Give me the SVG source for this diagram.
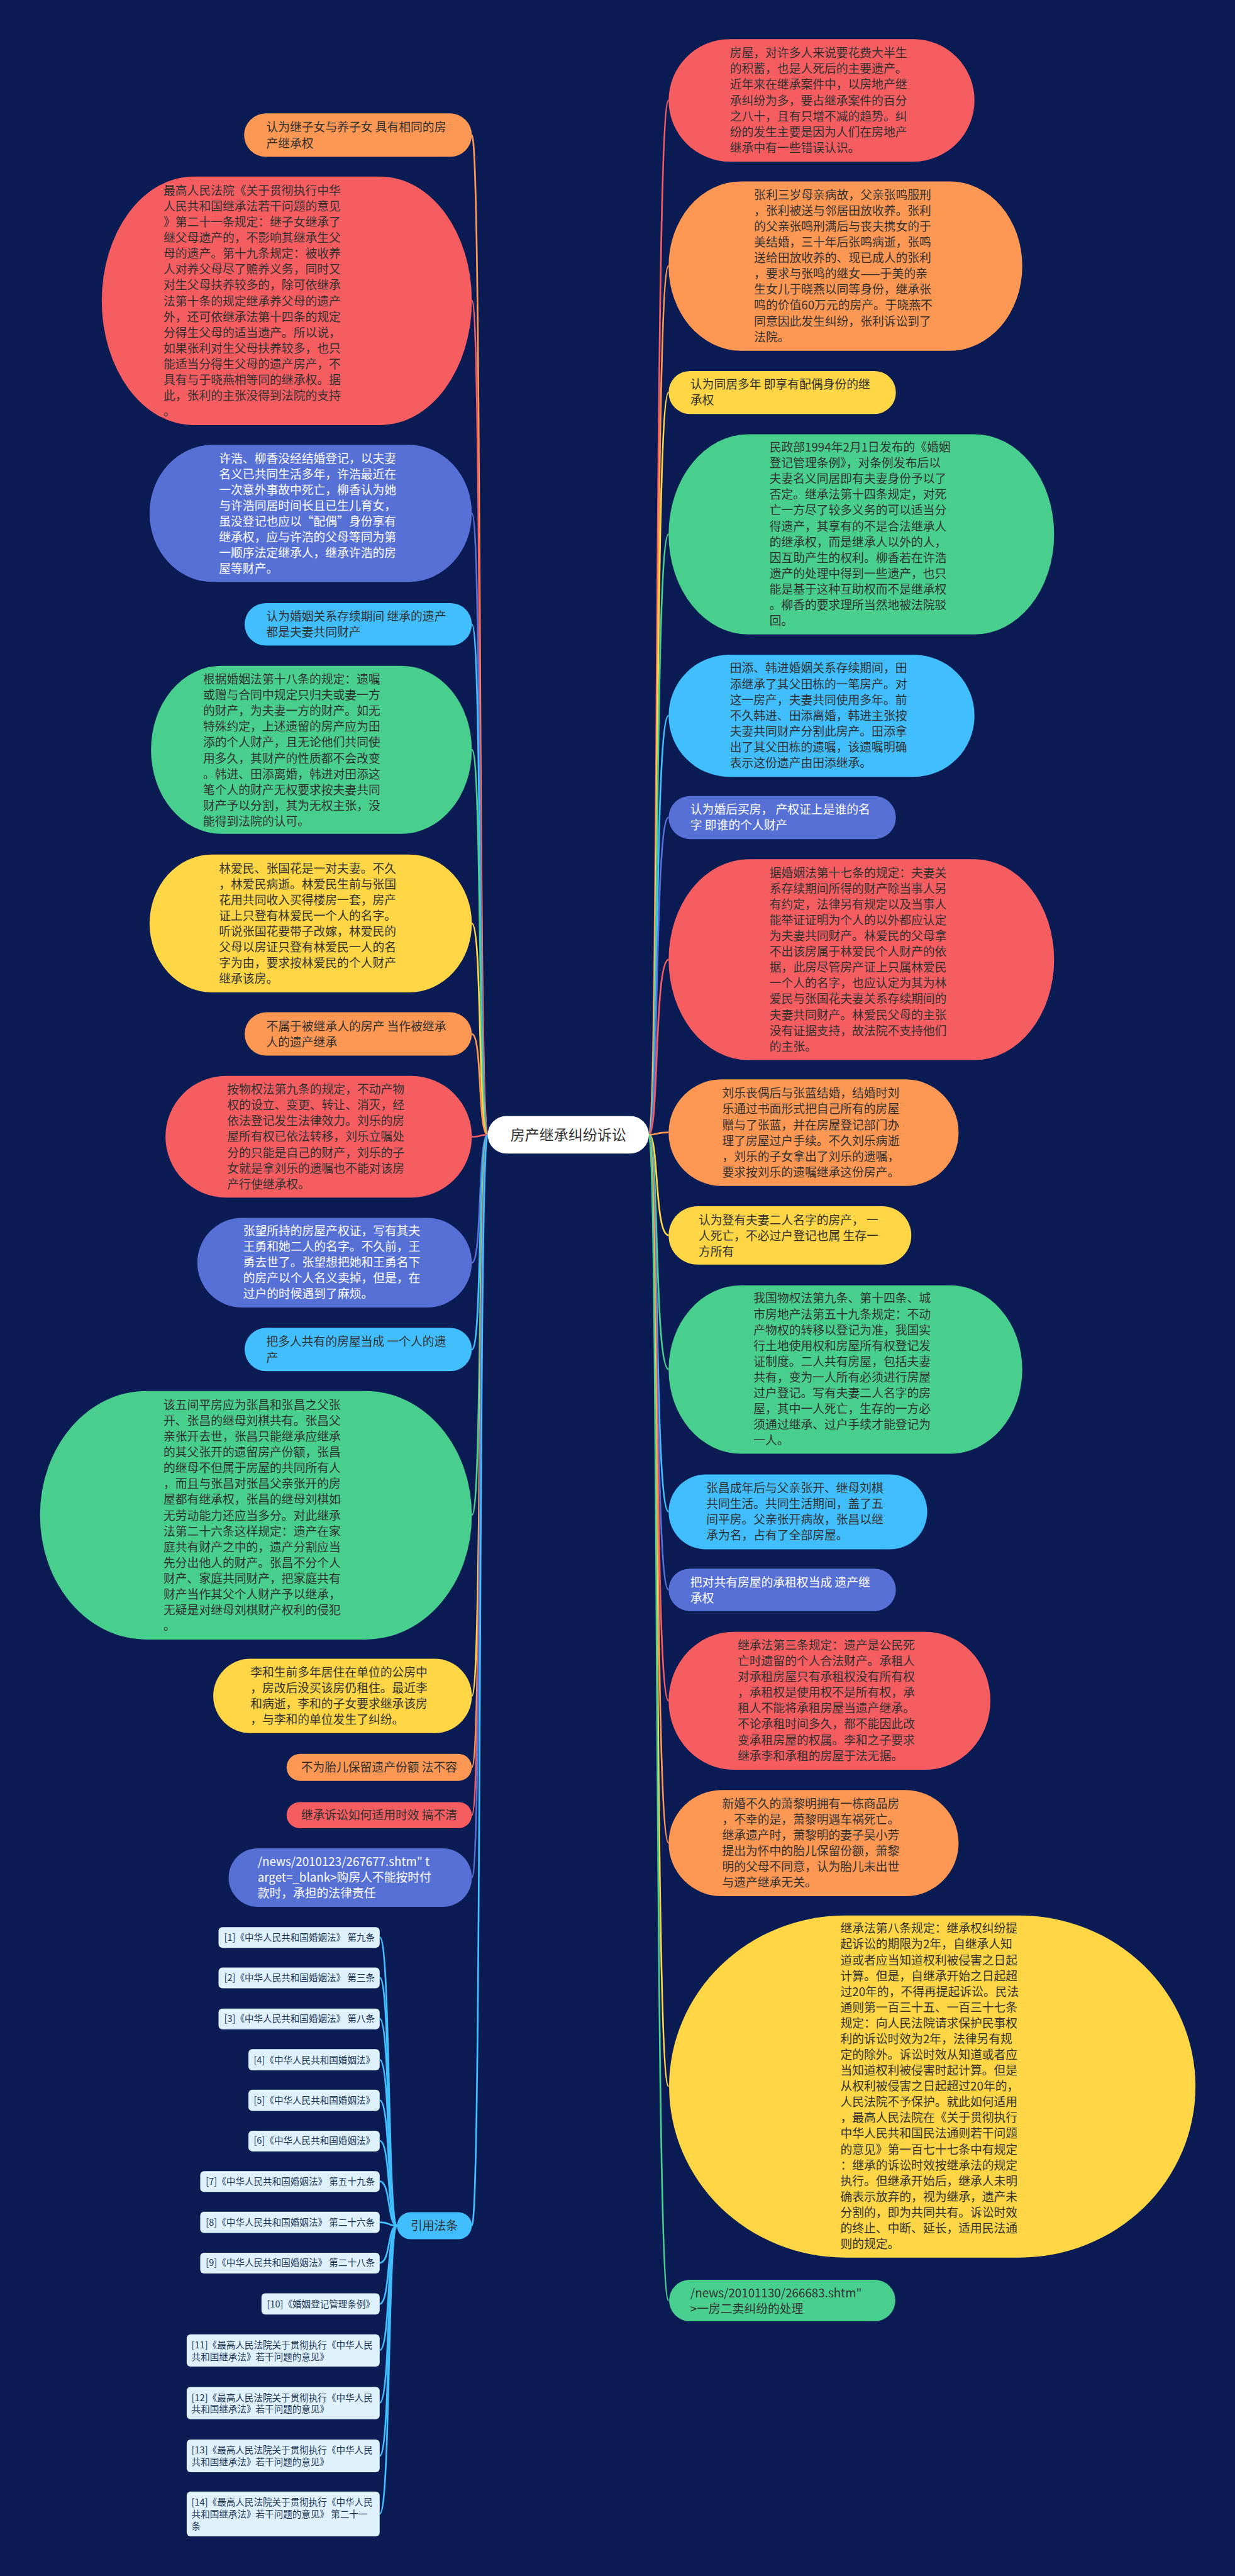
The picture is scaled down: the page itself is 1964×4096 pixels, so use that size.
<svg xmlns="http://www.w3.org/2000/svg" width="1964" height="4096" viewBox="0 0 1964 4096">
<style>
.t{font-family:"Noto Sans CJK SC","Noto Sans",sans-serif;font-size:24.5px;fill:#333}
.w{fill:#fff}
.rt{font-family:"Noto Sans CJK SC","Noto Sans",sans-serif;font-size:19px;fill:#1d3557}
.c{fill:none;stroke-width:3.5}
.red{fill:#f55d61}.ora{fill:#fd9754}.yel{fill:#fed646}.grn{fill:#49cf8d}.blu{fill:#41befd}.pur{fill:#5670d6}
.sred{stroke:#f55d61}.sora{stroke:#fd9754}.syel{stroke:#fed646}.sgrn{stroke:#49cf8d}.sblu{stroke:#41befd}.spur{stroke:#5670d6}
.ref{fill:#dff2fc}
</style>
<rect x="0" y="0" width="1964" height="4096" fill="#0b1c54"/>
<g transform="scale(0.76719)">
<g id="connectors">
<path class="c sora" d="M1011,2352 C990,2352 1000,280 978,280"/>
<path class="c sred" d="M1011,2352 C990,2352 1000,623 978,623"/>
<path class="c spur" d="M1011,2352 C990,2352 1000,1064 978,1064"/>
<path class="c sblu" d="M1011,2352 C990,2352 1000,1294 978,1294"/>
<path class="c sgrn" d="M1011,2352 C990,2352 1000,1554 978,1554"/>
<path class="c syel" d="M1011,2352 C990,2352 1000,1914 978,1914"/>
<path class="c sora" d="M1011,2352 C990,2352 1000,2143 978,2143"/>
<path class="c sred" d="M1011,2352 C990,2352 1000,2356 978,2356"/>
<path class="c spur" d="M1011,2352 C990,2352 1000,2617 978,2617"/>
<path class="c sblu" d="M1011,2352 C990,2352 1000,2797 978,2797"/>
<path class="c sgrn" d="M1011,2352 C990,2352 1000,3140 978,3140"/>
<path class="c syel" d="M1011,2352 C990,2352 1000,3515 978,3515"/>
<path class="c sora" d="M1011,2352 C990,2352 1000,3663 978,3663"/>
<path class="c sred" d="M1011,2352 C990,2352 1000,3762 978,3762"/>
<path class="c spur" d="M1011,2352 C990,2352 1000,3891 978,3891"/>
<path class="c sblu" d="M1011,2352 C990,2352 1000,4613 978,4613"/>
<path class="c sred" d="M1345,2352 C1366,2352 1356,208 1386,208"/>
<path class="c sora" d="M1345,2352 C1366,2352 1356,551 1386,551"/>
<path class="c syel" d="M1345,2352 C1366,2352 1356,813 1386,813"/>
<path class="c sgrn" d="M1345,2352 C1366,2352 1356,1107 1386,1107"/>
<path class="c sblu" d="M1345,2352 C1366,2352 1356,1483 1386,1483"/>
<path class="c spur" d="M1345,2352 C1366,2352 1356,1694 1386,1694"/>
<path class="c sred" d="M1345,2352 C1366,2352 1356,1989 1386,1989"/>
<path class="c sora" d="M1345,2352 C1366,2352 1356,2347 1386,2347"/>
<path class="c syel" d="M1345,2352 C1366,2352 1356,2560 1386,2560"/>
<path class="c sgrn" d="M1345,2352 C1366,2352 1356,2838 1386,2838"/>
<path class="c sblu" d="M1345,2352 C1366,2352 1356,3133 1386,3133"/>
<path class="c spur" d="M1345,2352 C1366,2352 1356,3295 1386,3295"/>
<path class="c sred" d="M1345,2352 C1366,2352 1356,3525 1386,3525"/>
<path class="c sora" d="M1345,2352 C1366,2352 1356,3820 1386,3820"/>
<path class="c syel" d="M1345,2352 C1366,2352 1356,4324 1386,4324"/>
<path class="c sgrn" d="M1345,2352 C1366,2352 1356,4768 1386,4768"/>
<g class="c sblu" stroke-width="3">
<path d="M823,4613 C803,4613 810,4015 787,4015"/>
<path d="M823,4613 C803,4613 810,4099 787,4099"/>
<path d="M823,4613 C803,4613 810,4184 787,4184"/>
<path d="M823,4613 C803,4613 810,4269 787,4269"/>
<path d="M823,4613 C803,4613 810,4353 787,4353"/>
<path d="M823,4613 C803,4613 810,4437 787,4437"/>
<path d="M823,4613 C803,4613 810,4521 787,4521"/>
<path d="M823,4613 C803,4613 810,4606 787,4606"/>
<path d="M823,4613 C803,4613 810,4690 787,4690"/>
<path d="M823,4613 C803,4613 810,4775 787,4775"/>
<path d="M823,4613 C803,4613 810,4871 787,4871"/>
<path d="M823,4613 C803,4613 810,4980 787,4980"/>
<path d="M823,4613 C803,4613 810,5090 787,5090"/>
<path d="M823,4613 C803,4613 810,5210 787,5210"/>
</g>
</g>

<g id="root">
<rect x="1011" y="2313" width="334" height="78" rx="39" fill="#ffffff"/>
<text x="1178" y="2363" text-anchor="middle" font-family="Noto Sans CJK SC, sans-serif" font-size="30" fill="#333">房产继承纠纷诉讼</text>
</g>

<g id="L1"><rect class="ora" x="506" y="235" width="472" height="90" rx="45"/>
<text class="t" x="552" y="273"><tspan x="552">认为继子女与养子女 具有相同的房</tspan><tspan x="552" dy="32.7">产继承权</tspan></text></g>

<g id="L2"><rect class="red" x="211" y="366" width="767" height="515" rx="190" ry="257"/>
<text class="t" x="339" y="404"><tspan x="339">最高人民法院《关于贯彻执行中华</tspan><tspan x="339" dy="32.7">人民共和国继承法若干问题的意见</tspan><tspan x="339" dy="32.7">》第二十一条规定：继子女继承了</tspan><tspan x="339" dy="32.7">继父母遗产的，不影响其继承生父</tspan><tspan x="339" dy="32.7">母的遗产。第十九条规定：被收养</tspan><tspan x="339" dy="32.7">人对养父母尽了赡养义务，同时又</tspan><tspan x="339" dy="32.7">对生父母扶养较多的，除可依继承</tspan><tspan x="339" dy="32.7">法第十条的规定继承养父母的遗产</tspan><tspan x="339" dy="32.7">外，还可依继承法第十四条的规定</tspan><tspan x="339" dy="32.7">分得生父母的适当遗产。所以说，</tspan><tspan x="339" dy="32.7">如果张利对生父母扶养较多，也只</tspan><tspan x="339" dy="32.7">能适当分得生父母的遗产房产，不</tspan><tspan x="339" dy="32.7">具有与于晓燕相等同的继承权。据</tspan><tspan x="339" dy="32.7">此，张利的主张没得到法院的支持</tspan><tspan x="339" dy="32.7">。</tspan></text></g>

<g id="L3"><rect class="pur" x="310" y="922" width="668" height="284" rx="130" ry="142"/>
<text class="t w" x="454" y="959"><tspan x="454">许浩、柳香没经结婚登记，以夫妻</tspan><tspan x="454" dy="32.7">名义已共同生活多年，许浩最近在</tspan><tspan x="454" dy="32.7">一次意外事故中死亡，柳香认为她</tspan><tspan x="454" dy="32.7">与许浩同居时间长且已生儿育女，</tspan><tspan x="454" dy="32.7">虽没登记也应以“配偶”身份享有</tspan><tspan x="454" dy="32.7">继承权，应与许浩的父母等同为第</tspan><tspan x="454" dy="32.7">一顺序法定继承人，继承许浩的房</tspan><tspan x="454" dy="32.7">屋等财产。</tspan></text></g>

<g id="L4"><rect class="blu" x="507" y="1250" width="471" height="88" rx="44"/>
<text class="t" x="552" y="1287"><tspan x="552">认为婚姻关系存续期间 继承的遗产</tspan><tspan x="552" dy="32.7">都是夫妻共同财产</tspan></text></g>

<g id="L5"><rect class="grn" x="313" y="1380" width="665" height="348" rx="145" ry="174"/>
<text class="t" x="421" y="1417"><tspan x="421">根据婚姻法第十八条的规定：遗嘱</tspan><tspan x="421" dy="32.7">或赠与合同中规定只归夫或妻一方</tspan><tspan x="421" dy="32.7">的财产，为夫妻一方的财产。如无</tspan><tspan x="421" dy="32.7">特殊约定，上述遗留的房产应为田</tspan><tspan x="421" dy="32.7">添的个人财产，且无论他们共同使</tspan><tspan x="421" dy="32.7">用多久，其财产的性质都不会改变</tspan><tspan x="421" dy="32.7">。韩进、田添离婚，韩进对田添这</tspan><tspan x="421" dy="32.7">笔个人的财产无权要求按夫妻共同</tspan><tspan x="421" dy="32.7">财产予以分割，其为无权主张，没</tspan><tspan x="421" dy="32.7">能得到法院的认可。</tspan></text></g>

<g id="L6"><rect class="yel" x="310" y="1771" width="668" height="286" rx="130" ry="143"/>
<text class="t" x="454" y="1809"><tspan x="454">林爱民、张国花是一对夫妻。不久</tspan><tspan x="454" dy="32.7">，林爱民病逝。林爱民生前与张国</tspan><tspan x="454" dy="32.7">花用共同收入买得楼房一套，房产</tspan><tspan x="454" dy="32.7">证上只登有林爱民一个人的名字。</tspan><tspan x="454" dy="32.7">听说张国花要带子改嫁，林爱民的</tspan><tspan x="454" dy="32.7">父母以房证只登有林爱民一人的名</tspan><tspan x="454" dy="32.7">字为由，要求按林爱民的个人财产</tspan><tspan x="454" dy="32.7">继承该房。</tspan></text></g>

<g id="L7"><rect class="ora" x="507" y="2098" width="471" height="90" rx="45"/>
<text class="t" x="552" y="2136"><tspan x="552">不属于被继承人的房产 当作被继承</tspan><tspan x="552" dy="32.7">人的遗产继承</tspan></text></g>

<g id="L8"><rect class="red" x="343" y="2230" width="635" height="252" rx="125" ry="126"/>
<text class="t" x="471" y="2267"><tspan x="471">按物权法第九条的规定，不动产物</tspan><tspan x="471" dy="32.7">权的设立、变更、转让、消灭，经</tspan><tspan x="471" dy="32.7">依法登记发生法律效力。刘乐的房</tspan><tspan x="471" dy="32.7">屋所有权已依法转移，刘乐立嘱处</tspan><tspan x="471" dy="32.7">分的只能是自己的财产，刘乐的子</tspan><tspan x="471" dy="32.7">女就是拿刘乐的遗嘱也不能对该房</tspan><tspan x="471" dy="32.7">产行使继承权。</tspan></text></g>

<g id="L9"><rect class="pur" x="409" y="2524" width="569" height="186" rx="93"/>
<text class="t w" x="504" y="2560"><tspan x="504">张望所持的房屋产权证，写有其夫</tspan><tspan x="504" dy="32.7">王勇和她二人的名字。不久前，王</tspan><tspan x="504" dy="32.7">勇去世了。张望想把她和王勇名下</tspan><tspan x="504" dy="32.7">的房产以个人名义卖掉，但是，在</tspan><tspan x="504" dy="32.7">过户的时候遇到了麻烦。</tspan></text></g>

<g id="L10"><rect class="blu" x="507" y="2752" width="471" height="90" rx="45"/>
<text class="t" x="552" y="2790"><tspan x="552">把多人共有的房屋当成 一个人的遗</tspan><tspan x="552" dy="32.7">产</tspan></text></g>

<g id="L11"><rect class="grn" x="83" y="2883" width="895" height="515" rx="220" ry="257"/>
<text class="t" x="339" y="2921"><tspan x="339">该五间平房应为张昌和张昌之父张</tspan><tspan x="339" dy="32.7">开、张昌的继母刘棋共有。张昌父</tspan><tspan x="339" dy="32.7">亲张开去世，张昌只能继承应继承</tspan><tspan x="339" dy="32.7">的其父张开的遗留房产份额，张昌</tspan><tspan x="339" dy="32.7">的继母不但属于房屋的共同所有人</tspan><tspan x="339" dy="32.7">，而且与张昌对张昌父亲张开的房</tspan><tspan x="339" dy="32.7">屋都有继承权，张昌的继母刘棋如</tspan><tspan x="339" dy="32.7">无劳动能力还应当多分。对此继承</tspan><tspan x="339" dy="32.7">法第二十六条这样规定：遗产在家</tspan><tspan x="339" dy="32.7">庭共有财产之中的，遗产分割应当</tspan><tspan x="339" dy="32.7">先分出他人的财产。张昌不分个人</tspan><tspan x="339" dy="32.7">财产、家庭共同财产，把家庭共有</tspan><tspan x="339" dy="32.7">财产当作其父个人财产予以继承，</tspan><tspan x="339" dy="32.7">无疑是对继母刘棋财产权利的侵犯</tspan><tspan x="339" dy="32.7">。</tspan></text></g>

<g id="L12"><rect class="yel" x="442" y="3438" width="536" height="154" rx="77"/>
<text class="t" x="519" y="3475"><tspan x="519">李和生前多年居住在单位的公房中</tspan><tspan x="519" dy="32.7">，房改后没买该房仍租住。最近李</tspan><tspan x="519" dy="32.7">和病逝，李和的子女要求继承该房</tspan><tspan x="519" dy="32.7">，与李和的单位发生了纠纷。</tspan></text></g>

<g id="L13"><rect class="ora" x="594" y="3635" width="384" height="56" rx="28"/>
<text class="t" x="624" y="3672">不为胎儿保留遗产份额 法不容</text></g>

<g id="L14"><rect class="red" x="594" y="3735" width="384" height="54" rx="27"/>
<text class="t" x="624" y="3771">继承诉讼如何适用时效 搞不清</text></g>

<g id="L15"><rect class="pur" x="474" y="3831" width="504" height="121" rx="60"/>
<text class="t w" x="534" y="3867"><tspan x="534">/news/2010123/267677.shtm" t</tspan><tspan x="534" dy="32.7">arget=_blank&gt;购房人不能按时付</tspan><tspan x="534" dy="32.7">款时，承担的法律责任</tspan></text></g>

<g id="L16"><rect class="blu" x="823" y="4585" width="155" height="56" rx="28"/>
<text class="t" x="900" y="4622" text-anchor="middle" font-size="24">引用法条</text></g>

<g id="refs">
<rect class="ref" x="453" y="3994" width="334" height="43" rx="8"/><text class="rt" x="777" y="4022" text-anchor="end">[1]《中华人民共和国婚姻法》 第九条</text>
<rect class="ref" x="453" y="4078" width="334" height="43" rx="8"/><text class="rt" x="777" y="4106" text-anchor="end">[2]《中华人民共和国婚姻法》 第三条</text>
<rect class="ref" x="453" y="4163" width="334" height="43" rx="8"/><text class="rt" x="777" y="4191" text-anchor="end">[3]《中华人民共和国婚姻法》 第八条</text>
<rect class="ref" x="515" y="4247" width="272" height="44" rx="8"/><text class="rt" x="777" y="4276" text-anchor="end">[4]《中华人民共和国婚姻法》</text>
<rect class="ref" x="515" y="4331" width="272" height="44" rx="8"/><text class="rt" x="777" y="4360" text-anchor="end">[5]《中华人民共和国婚姻法》</text>
<rect class="ref" x="515" y="4416" width="272" height="43" rx="8"/><text class="rt" x="777" y="4444" text-anchor="end">[6]《中华人民共和国婚姻法》</text>
<rect class="ref" x="415" y="4500" width="372" height="43" rx="8"/><text class="rt" x="777" y="4528" text-anchor="end">[7]《中华人民共和国婚姻法》 第五十九条</text>
<rect class="ref" x="415" y="4584" width="372" height="44" rx="8"/><text class="rt" x="777" y="4613" text-anchor="end">[8]《中华人民共和国婚姻法》 第二十六条</text>
<rect class="ref" x="415" y="4669" width="372" height="43" rx="8"/><text class="rt" x="777" y="4697" text-anchor="end">[9]《中华人民共和国婚姻法》 第二十八条</text>
<rect class="ref" x="542" y="4753" width="245" height="44" rx="8"/><text class="rt" x="777" y="4782" text-anchor="end">[10]《婚姻登记管理条例》</text>
<rect class="ref" x="387" y="4838" width="400" height="67" rx="8"/><text class="rt" x="397" y="4867"><tspan x="397">[11]《最高人民法院关于贯彻执行《中华人民</tspan><tspan x="397" dy="24.5">共和国继承法》若干问题的意见》</tspan></text>
<rect class="ref" x="387" y="4947" width="400" height="67" rx="8"/><text class="rt" x="397" y="4976"><tspan x="397">[12]《最高人民法院关于贯彻执行《中华人民</tspan><tspan x="397" dy="24.5">共和国继承法》若干问题的意见》</tspan></text>
<rect class="ref" x="387" y="5056" width="400" height="68" rx="8"/><text class="rt" x="397" y="5085"><tspan x="397">[13]《最高人民法院关于贯彻执行《中华人民</tspan><tspan x="397" dy="24.5">共和国继承法》若干问题的意见》</tspan></text>
<rect class="ref" x="387" y="5164" width="400" height="93" rx="8"/><text class="rt" x="397" y="5193"><tspan x="397">[14]《最高人民法院关于贯彻执行《中华人民</tspan><tspan x="397" dy="24.5">共和国继承法》若干问题的意见》 第二十一</tspan><tspan x="397" dy="24.5">条</tspan></text>
</g>

<g id="R1"><rect class="red" x="1386" y="81" width="634" height="254" rx="127"/>
<text class="t" x="1513" y="119"><tspan x="1513">房屋，对许多人来说要花费大半生</tspan><tspan x="1513" dy="32.7">的积蓄，也是人死后的主要遗产。</tspan><tspan x="1513" dy="32.7">近年来在继承案件中，以房地产继</tspan><tspan x="1513" dy="32.7">承纠纷为多，要占继承案件的百分</tspan><tspan x="1513" dy="32.7">之八十，且有只增不减的趋势。纠</tspan><tspan x="1513" dy="32.7">纷的发生主要是因为人们在房地产</tspan><tspan x="1513" dy="32.7">继承中有一些错误认识。</tspan></text></g>

<g id="R2"><rect class="ora" x="1386" y="376" width="733" height="351" rx="150" ry="175"/>
<text class="t" x="1563" y="413"><tspan x="1563">张利三岁母亲病故，父亲张鸣服刑</tspan><tspan x="1563" dy="32.7">，张利被送与邻居田放收养。张利</tspan><tspan x="1563" dy="32.7">的父亲张鸣刑满后与丧夫携女的于</tspan><tspan x="1563" dy="32.7">美结婚，三十年后张鸣病逝，张鸣</tspan><tspan x="1563" dy="32.7">送给田放收养的、现已成人的张利</tspan><tspan x="1563" dy="32.7">，要求与张鸣的继女——于美的亲</tspan><tspan x="1563" dy="32.7">生女儿于晓燕以同等身份，继承张</tspan><tspan x="1563" dy="32.7">鸣的价值60万元的房产。于晓燕不</tspan><tspan x="1563" dy="32.7">同意因此发生纠纷，张利诉讼到了</tspan><tspan x="1563" dy="32.7">法院。</tspan></text></g>

<g id="R3"><rect class="yel" x="1386" y="769" width="471" height="89" rx="44"/>
<text class="t" x="1431" y="806"><tspan x="1431">认为同居多年 即享有配偶身份的继</tspan><tspan x="1431" dy="32.7">承权</tspan></text></g>

<g id="R4"><rect class="grn" x="1386" y="900" width="799" height="415" rx="165" ry="207"/>
<text class="t" x="1595" y="936"><tspan x="1595">民政部1994年2月1日发布的《婚姻</tspan><tspan x="1595" dy="32.7">登记管理条例》，对条例发布后以</tspan><tspan x="1595" dy="32.7">夫妻名义同居即有夫妻身份予以了</tspan><tspan x="1595" dy="32.7">否定。继承法第十四条规定，对死</tspan><tspan x="1595" dy="32.7">亡一方尽了较多义务的可以适当分</tspan><tspan x="1595" dy="32.7">得遗产，其享有的不是合法继承人</tspan><tspan x="1595" dy="32.7">的继承权，而是继承人以外的人，</tspan><tspan x="1595" dy="32.7">因互助产生的权利。柳香若在许浩</tspan><tspan x="1595" dy="32.7">遗产的处理中得到一些遗产，也只</tspan><tspan x="1595" dy="32.7">能是基于这种互助权而不是继承权</tspan><tspan x="1595" dy="32.7">。柳香的要求理所当然地被法院驳</tspan><tspan x="1595" dy="32.7">回。</tspan></text></g>

<g id="R5"><rect class="blu" x="1386" y="1357" width="634" height="253" rx="126"/>
<text class="t" x="1513" y="1394"><tspan x="1513">田添、韩进婚姻关系存续期间，田</tspan><tspan x="1513" dy="32.7">添继承了其父田栋的一笔房产。对</tspan><tspan x="1513" dy="32.7">这一房产，夫妻共同使用多年。前</tspan><tspan x="1513" dy="32.7">不久韩进、田添离婚，韩进主张按</tspan><tspan x="1513" dy="32.7">夫妻共同财产分割此房产。田添拿</tspan><tspan x="1513" dy="32.7">出了其父田栋的遗嘱，该遗嘱明确</tspan><tspan x="1513" dy="32.7">表示这份遗产由田添继承。</tspan></text></g>

<g id="R6"><rect class="pur" x="1386" y="1650" width="471" height="89" rx="44"/>
<text class="t w" x="1431" y="1687"><tspan x="1431">认为婚后买房， 产权证上是谁的名</tspan><tspan x="1431" dy="32.7">字 即谁的个人财产</tspan></text></g>

<g id="R7"><rect class="red" x="1386" y="1781" width="799" height="416" rx="165" ry="208"/>
<text class="t" x="1595" y="1818"><tspan x="1595">据婚姻法第十七条的规定：夫妻关</tspan><tspan x="1595" dy="32.7">系存续期间所得的财产除当事人另</tspan><tspan x="1595" dy="32.7">有约定，法律另有规定以及当事人</tspan><tspan x="1595" dy="32.7">能举证证明为个人的以外都应认定</tspan><tspan x="1595" dy="32.7">为夫妻共同财产。林爱民的父母拿</tspan><tspan x="1595" dy="32.7">不出该房属于林爱民个人财产的依</tspan><tspan x="1595" dy="32.7">据，此房尽管房产证上只属林爱民</tspan><tspan x="1595" dy="32.7">一个人的名字，也应认定为其为林</tspan><tspan x="1595" dy="32.7">爱民与张国花夫妻关系存续期间的</tspan><tspan x="1595" dy="32.7">夫妻共同财产。林爱民父母的主张</tspan><tspan x="1595" dy="32.7">没有证据支持，故法院不支持他们</tspan><tspan x="1595" dy="32.7">的主张。</tspan></text></g>

<g id="R8"><rect class="ora" x="1386" y="2237" width="601" height="221" rx="110"/>
<text class="t" x="1497" y="2275"><tspan x="1497">刘乐丧偶后与张蓝结婚，结婚时刘</tspan><tspan x="1497" dy="32.7">乐通过书面形式把自己所有的房屋</tspan><tspan x="1497" dy="32.7">赠与了张蓝，并在房屋登记部门办</tspan><tspan x="1497" dy="32.7">理了房屋过户手续。不久刘乐病逝</tspan><tspan x="1497" dy="32.7">，刘乐的子女拿出了刘乐的遗嘱，</tspan><tspan x="1497" dy="32.7">要求按刘乐的遗嘱继承这份房产。</tspan></text></g>

<g id="R9"><rect class="yel" x="1386" y="2500" width="503" height="121" rx="60"/>
<text class="t" x="1448" y="2538"><tspan x="1448">认为登有夫妻二人名字的房产， 一</tspan><tspan x="1448" dy="32.7">人死亡，不必过户登记也属 生存一</tspan><tspan x="1448" dy="32.7">方所有</tspan></text></g>

<g id="R10"><rect class="grn" x="1386" y="2664" width="733" height="349" rx="150" ry="174"/>
<text class="t" x="1562" y="2700"><tspan x="1562">我国物权法第九条、第十四条、城</tspan><tspan x="1562" dy="32.7">市房地产法第五十九条规定：不动</tspan><tspan x="1562" dy="32.7">产物权的转移以登记为准，我国实</tspan><tspan x="1562" dy="32.7">行土地使用权和房屋所有权登记发</tspan><tspan x="1562" dy="32.7">证制度。二人共有房屋，包括夫妻</tspan><tspan x="1562" dy="32.7">共有，变为一人所有必须进行房屋</tspan><tspan x="1562" dy="32.7">过户登记。写有夫妻二人名字的房</tspan><tspan x="1562" dy="32.7">屋，其中一人死亡，生存的一方必</tspan><tspan x="1562" dy="32.7">须通过继承、过户手续才能登记为</tspan><tspan x="1562" dy="32.7">一人。</tspan></text></g>

<g id="R11"><rect class="blu" x="1386" y="3056" width="536" height="155" rx="77"/>
<text class="t" x="1464" y="3093"><tspan x="1464">张昌成年后与父亲张开、继母刘棋</tspan><tspan x="1464" dy="32.7">共同生活。共同生活期间，盖了五</tspan><tspan x="1464" dy="32.7">间平房。父亲张开病故，张昌以继</tspan><tspan x="1464" dy="32.7">承为名，占有了全部房屋。</tspan></text></g>

<g id="R12"><rect class="pur" x="1386" y="3251" width="471" height="88" rx="44"/>
<text class="t w" x="1431" y="3288"><tspan x="1431">把对共有房屋的承租权当成 遗产继</tspan><tspan x="1431" dy="32.7">承权</tspan></text></g>

<g id="R13"><rect class="red" x="1386" y="3382" width="667" height="286" rx="135" ry="143"/>
<text class="t" x="1529" y="3419"><tspan x="1529">继承法第三条规定：遗产是公民死</tspan><tspan x="1529" dy="32.7">亡时遗留的个人合法财产。承租人</tspan><tspan x="1529" dy="32.7">对承租房屋只有承租权没有所有权</tspan><tspan x="1529" dy="32.7">，承租权是使用权不是所有权，承</tspan><tspan x="1529" dy="32.7">租人不能将承租房屋当遗产继承。</tspan><tspan x="1529" dy="32.7">不论承租时间多久，都不能因此改</tspan><tspan x="1529" dy="32.7">变承租房屋的权属。李和之子要求</tspan><tspan x="1529" dy="32.7">继承李和承租的房屋于法无据。</tspan></text></g>

<g id="R14"><rect class="ora" x="1386" y="3710" width="601" height="220" rx="110"/>
<text class="t" x="1497" y="3747"><tspan x="1497">新婚不久的萧黎明拥有一栋商品房</tspan><tspan x="1497" dy="32.7">，不幸的是，萧黎明遇车祸死亡。</tspan><tspan x="1497" dy="32.7">继承遗产时，萧黎明的妻子吴小芳</tspan><tspan x="1497" dy="32.7">提出为怀中的胎儿保留份额，萧黎</tspan><tspan x="1497" dy="32.7">明的父母不同意，认为胎儿未出世</tspan><tspan x="1497" dy="32.7">与遗产继承无关。</tspan></text></g>

<g id="R15"><rect class="yel" x="1387" y="3970" width="1091" height="709" rx="365" ry="354"/>
<text class="t" x="1742" y="4006"><tspan x="1742">继承法第八条规定：继承权纠纷提</tspan><tspan x="1742" dy="32.7">起诉讼的期限为2年，自继承人知</tspan><tspan x="1742" dy="32.7">道或者应当知道权利被侵害之日起</tspan><tspan x="1742" dy="32.7">计算。但是，自继承开始之日起超</tspan><tspan x="1742" dy="32.7">过20年的，不得再提起诉讼。民法</tspan><tspan x="1742" dy="32.7">通则第一百三十五、一百三十七条</tspan><tspan x="1742" dy="32.7">规定：向人民法院请求保护民事权</tspan><tspan x="1742" dy="32.7">利的诉讼时效为2年，法律另有规</tspan><tspan x="1742" dy="32.7">定的除外。诉讼时效从知道或者应</tspan><tspan x="1742" dy="32.7">当知道权利被侵害时起计算。但是</tspan><tspan x="1742" dy="32.7">从权利被侵害之日起超过20年的，</tspan><tspan x="1742" dy="32.7">人民法院不予保护。就此如何适用</tspan><tspan x="1742" dy="32.7">，最高人民法院在《关于贯彻执行</tspan><tspan x="1742" dy="32.7">中华人民共和国民法通则若干问题</tspan><tspan x="1742" dy="32.7">的意见》第一百七十七条中有规定</tspan><tspan x="1742" dy="32.7">：继承的诉讼时效按继承法的规定</tspan><tspan x="1742" dy="32.7">执行。但继承开始后，继承人未明</tspan><tspan x="1742" dy="32.7">确表示放弃的，视为继承，遗产未</tspan><tspan x="1742" dy="32.7">分割的，即为共同共有。诉讼时效</tspan><tspan x="1742" dy="32.7">的终止、中断、延长，适用民法通</tspan><tspan x="1742" dy="32.7">则的规定。</tspan></text></g>

<g id="R16"><rect class="grn" x="1387" y="4725" width="469" height="86" rx="43"/>
<text class="t" x="1431" y="4761"><tspan x="1431">/news/20101130/266683.shtm"</tspan><tspan x="1431" dy="32.7">&gt;一房二卖纠纷的处理</tspan></text></g>
</g>
</svg>
